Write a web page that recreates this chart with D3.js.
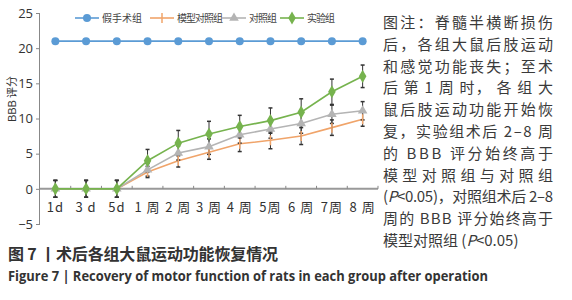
<!DOCTYPE html>
<html>
<head>
<meta charset="utf-8">
<script src="https://cdn.jsdelivr.net/npm/d3@7"></script>
<style>
  body { margin: 0; background: #fff; }
  svg { display: block; font-family: "Noto Sans CJK SC", "Noto Sans", sans-serif; }
</style>
</head>
<body>
<svg id="drawing_region"></svg>
<script>
var categories = ['1d', '3 d', '5d', '1 周', '2 周', '3 周', '4 周', '5周', '6 周', '7周', '8 周'];
var seriesNames = ['假手术组', '模型对照组', '对照组', '实验组'];
var shamValues    = [21, 21, 21, 21, 21, 21, 21, 21, 21, 21, 21];
var modelValues   = [0, 0, 0, 2.4, 4.0, 5.2, 6.4, 6.9, 7.5, 8.7, 9.9];
var controlValues = [0, 0, 0, 2.7, 5.1, 6.0, 7.7, 8.5, 9.3, 10.6, 11.1];
var expValues     = [0, 0, 0, 4.0, 6.5, 7.8, 8.85, 9.7, 10.9, 13.8, 16.0];
var shamErr    = [0, 0, 0, 0, 0, 0, 0, 0, 0, 0, 0];
var modelErr   = [1.2, 1.2, 1.2, 0.8, 0.9, 1.0, 1.1, 1.2, 1.2, 1.1, 1.0];
var controlErr = [1.2, 1.2, 1.2, 0.9, 1.0, 1.1, 1.2, 1.3, 1.4, 1.3, 1.3];
var expErr     = [1.2, 1.2, 1.2, 1.6, 1.8, 1.8, 1.6, 1.8, 1.9, 1.8, 1.6];
var yTicks = [-5, 0, 5, 10, 15, 20, 25];

var noteLines = [
  '图注：脊髓半横断损伤',
  '后，各组大鼠后肢运动',
  '和感觉功能丧失；至术',
  '后 第 1 周 时， 各 组 大',
  '鼠后肢运动功能开始恢',
  '复，实验组术后 2–8 周',
  '的 BBB 评分始终高于',
  '模型对照组与对照组',
  '(P<0.05)，对照组术后 2–8',
  '周的 BBB 评分始终高于',
  '模型对照组 (P<0.05)'
];

var width = 572, height = 300;
var svg = d3.select('#drawing_region')
    .attr('width', width)
    .attr('height', height);

var xScale = d3.scalePoint()
    .domain(categories)
    .range([40, 378])
    .padding(0.5);

var yScale = d3.scaleLinear()
    .domain([-5, 25])
    .range([224, 13]);

var series = [
  { name: seriesNames[0], values: shamValues, err: shamErr, color: '#5b9bd5', marker: 'circle' },
  { name: seriesNames[1], values: modelValues, err: modelErr, color: '#f0a46a', marker: 'star' },
  { name: seriesNames[2], values: controlValues, err: controlErr, color: '#b4b4b4', marker: 'triangle' },
  { name: seriesNames[3], values: expValues, err: expErr, color: '#76b34e', marker: 'diamond' }
];

// y axis
var yAxis = svg.append('g')
    .attr('transform', 'translate(40,0)')
    .call(d3.axisLeft(yScale).tickValues(yTicks).tickSize(4).tickPadding(3));
yAxis.select('.domain').attr('stroke', '#888').attr('d', 'M-0.5,' + yScale(25) + 'V' + yScale(-5));
yAxis.selectAll('.tick line').attr('stroke', '#888');
yAxis.selectAll('.tick text')
    .attr('fill', '#333')
    .style('font-size', '13px')
    .style('font-family', '"Open Sans", sans-serif')
    .text(d => d < 0 ? '−5' : d);

// x axis at zero
var step = xScale.step();
var xAxis = svg.append('g')
    .attr('transform', 'translate(0,' + yScale(0) + ')');
xAxis.append('line')
    .attr('x1', 40).attr('x2', 378)
    .attr('stroke', '#999').attr('stroke-width', 2);
xAxis.selectAll('.sep')
    .data(categories)
    .enter()
    .append('line')
    .attr('x1', d => xScale(d) + step / 2)
    .attr('x2', d => xScale(d) + step / 2)
    .attr('y1', 0).attr('y2', -3)
    .attr('stroke', '#888');
xAxis.selectAll('.lab')
    .data(categories)
    .enter()
    .append('text')
    .attr('x', d => xScale(d))
    .attr('y', 23)
    .attr('text-anchor', 'middle')
    .attr('fill', '#333')
    .style('font-size', '13px')
    .style('letter-spacing', '1px')
    .text(d => d);

// y label
svg.append('text')
    .attr('transform', 'translate(16,99) rotate(-90)')
    .attr('text-anchor', 'middle')
    .attr('fill', '#333')
    .style('font-size', '11px')
    .text('BBB 评分');

function drawMarker(g, type, color) {
  if (type === 'circle') {
    g.append('circle').attr('r', 4).attr('fill', color);
  } else if (type === 'diamond') {
    g.append('path').attr('d', d3.symbol(d3.symbolDiamond, 50)()).attr('fill', color);
  } else if (type === 'triangle') {
    g.append('path').attr('d', d3.symbol(d3.symbolTriangle, 40)()).attr('fill', color);
  } else {
    g.append('path').attr('d', d3.symbol(d3.symbolTimes, 40)()).attr('fill', color);
    g.append('path').attr('d', 'M0,-5V5').attr('stroke', color).attr('stroke-width', 1.5);
  }
}

var line = d3.line()
    .x((d, i) => xScale(categories[i]))
    .y(d => yScale(d));

series.forEach(function(s) {
  svg.append('path')
      .datum(s.values)
      .attr('fill', 'none')
      .attr('stroke', s.color)
      .attr('stroke-width', 1.6)
      .attr('d', line);
});

// error bars
series.forEach(function(s) {
  var g = svg.append('g');
  s.values.forEach(function(v, i) {
    if (!s.err[i]) return;
    var x = xScale(categories[i]);
    g.append('line')
        .attr('x1', x).attr('x2', x)
        .attr('y1', yScale(v - s.err[i])).attr('y2', yScale(v + s.err[i]))
        .attr('stroke', '#333').attr('stroke-width', 1);
    [v - s.err[i], v + s.err[i]].forEach(function(e) {
      g.append('line')
          .attr('x1', x - 2).attr('x2', x + 2)
          .attr('y1', yScale(e)).attr('y2', yScale(e))
          .attr('stroke', '#333').attr('stroke-width', 1.5);
    });
  });
});

// markers
series.forEach(function(s) {
  s.values.forEach(function(v, i) {
    var g = svg.append('g')
        .attr('transform', 'translate(' + xScale(categories[i]) + ',' + yScale(v) + ')');
    drawMarker(g, s.marker, s.color);
  });
});

// legend
var legendX = [75, 150, 222, 280];
var legendTextW = [40, 46, 28, 28];
series.forEach(function(s, i) {
  var g = svg.append('g').attr('transform', 'translate(' + legendX[i] + ',18)');
  g.append('line').attr('x1', 0).attr('x2', 24).attr('stroke', s.color).attr('stroke-width', 1.6);
  var m = g.append('g').attr('transform', 'translate(12,0)');
  drawMarker(m, s.marker, s.color);
  g.append('text')
      .attr('x', 27).attr('y', 4)
      .attr('fill', '#444')
      .style('font-size', '10px')
      .attr('textLength', legendTextW[i])
      .text(s.name);
});

// note text, italic P
svg.selectAll('.note')
    .data(noteLines)
    .enter()
    .append('text')
    .attr('x', 383)
    .attr('y', (d, i) => 28 + i * 21.8)
    .attr('fill', '#3a3a3a')
    .style('font-size', '15px')
    .each(function(d, i) {
      var t = d3.select(this);
      if (i < noteLines.length - 1) {
        t.attr('textLength', 170).attr('lengthAdjust', 'spacing');
      }
      var parts = d.split('P<');
      if (parts.length > 1) {
        t.append('tspan').text(parts[0]);
        t.append('tspan').style('font-style', 'italic').text('P');
        t.append('tspan').text('<' + parts[1]);
      } else {
        t.text(d);
      }
    });

// captions
svg.append('text')
    .attr('x', 8).attr('y', 260)
    .attr('fill', '#333')
    .style('font-size', '16px')
    .style('font-weight', 'bold')
    .attr('textLength', 270)
    .text('图 7 丨术后各组大鼠运动功能恢复情况');

svg.append('text')
    .attr('x', 8).attr('y', 281)
    .attr('fill', '#333')
    .style('font-size', '14px')
    .style('font-weight', 'bold')
    .style('font-family', '"Open Sans", sans-serif')
    .attr('textLength', 480)
    .attr('lengthAdjust', 'spacingAndGlyphs')
    .text('Figure 7  |  Recovery of motor function of rats in each group after operation');
</script>
</body>
</html>
